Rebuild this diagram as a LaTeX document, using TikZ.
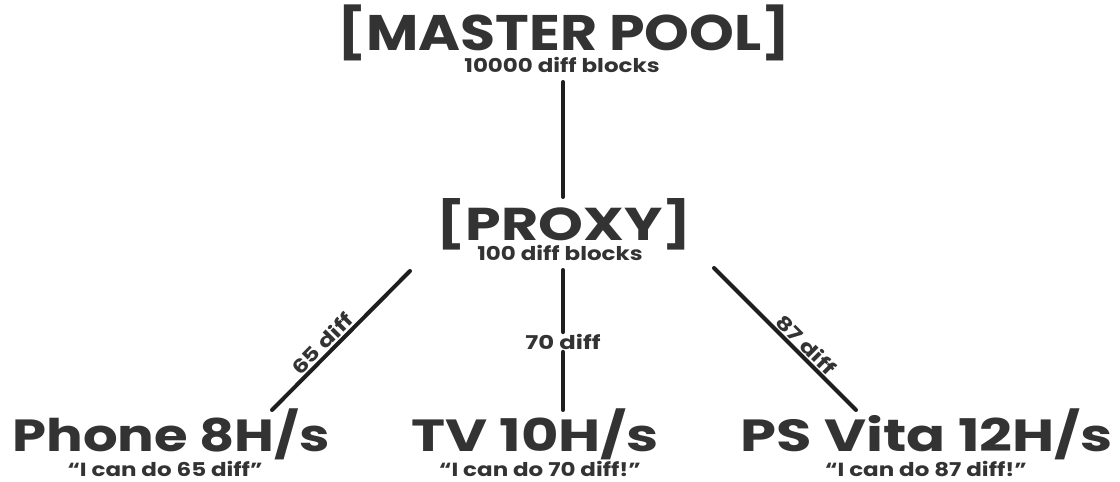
\documentclass[tikz,border=0pt]{standalone}
\usepackage{fontspec}
\setmainfont{Poppins}
\newfontfamily\fontA{Poppins}[FakeStretch=1.14]
\newfontfamily\fontP{Poppins}[FakeStretch=1.24]
\newfontfamily\fontM{Poppins}[FakeStretch=1.21]
\newfontfamily\fontW{Poppins}[FakeStretch=1.28]
\definecolor{txt}{HTML}{333333}
\definecolor{ln}{HTML}{1E1E1E}
\begin{document}
\begin{tikzpicture}[x=1pt,y=-1pt,
  lbl/.style={text=txt, inner sep=0pt, anchor=base},
  title/.style={lbl, font=\fontA\fontsize{50}{50}\selectfont\bfseries},
  ptitle/.style={lbl, font=\fontP\fontsize{46}{46}\selectfont\bfseries},
  btitle/.style={lbl, font=\fontW\fontsize{45}{45}\selectfont\bfseries},
  btitlen/.style={lbl, font=\fontM\fontsize{45}{45}\selectfont\bfseries},
  sub/.style={lbl, font=\fontM\fontsize{19}{19}\selectfont\bfseries},
  conn/.style={draw=ln, line width=4pt, line cap=round},
  elabel/.style={font=\fontW\fontsize{19}{19}\selectfont\bfseries, text=txt, inner sep=1.5pt}]
\useasboundingbox (0,0) rectangle (1120,482);
\node[title] (master) at (564,50) {[MASTER POOL]};
\node[sub] (mastersub) at (562,72) {10000 diff blocks};
\node[ptitle] (proxy) at (564,240) {[PROXY]};
\node[sub] (proxysub) at (560,260) {100 diff blocks};
\node[btitlen] (phone) at (171,451) {Phone 8H/s};
\node[sub] (phonesub) at (165,476) {“I can do 65 diff”};
\node[btitle] (tv) at (535,451) {TV 10H/s};
\node[sub] (tvsub) at (540,476) {“I can do 70 diff!”};
\node[btitle] (vita) at (927,451) {PS Vita 12H/s};
\node[sub] (vitasub) at (926,476) {“I can do 87 diff!”};
\coordinate (m1) at (563,82);
\coordinate (p0) at (563,197);
\coordinate (pl) at (410,271);
\coordinate (phl) at (272,410);
\coordinate (pc) at (563,270);
\coordinate (tvc) at (563,410);
\coordinate (pr) at (714,268);
\coordinate (vr) at (856,410);
\draw[conn] (m1) -- (p0);
\draw[conn] (phl) -- node[elabel, sloped, above, pos=0.42] (l65) {65 diff} (pl);
\node[elabel, inner sep=2pt] (l70) at (563,342) {70 diff};
\draw[conn] (pc) -- (l70.north);
\draw[conn] (l70.south) -- (tvc);
\draw[conn] (pr) -- node[elabel, sloped, above, pos=0.595] (l87) {87 diff} (vr);
\end{tikzpicture}
\end{document}
